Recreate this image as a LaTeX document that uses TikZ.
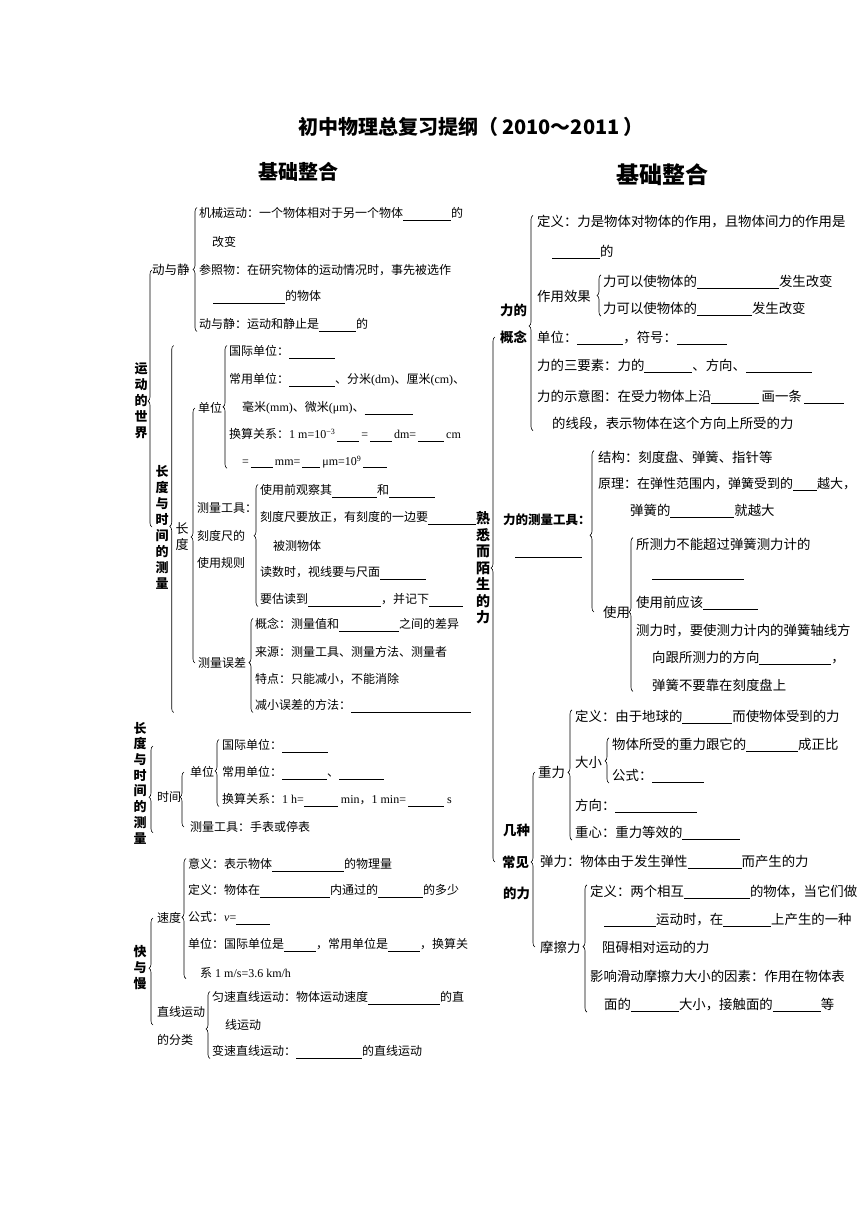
\documentclass[tikz,border=0pt]{standalone}
\usepackage{fontspec}
\setmainfont{Noto Sans CJK SC}
\newfontfamily\lat{Liberation Serif}
\usetikzlibrary{decorations.pathreplacing}
\newcommand{\blk}[1]{\rule[-2.5pt]{#1pt}{0.6pt}}

\begin{document}
\begin{tikzpicture}[x=1pt,y=-1pt,
  txt/.style={anchor=west,inner sep=0pt,font=\fontsize{12}{14}\selectfont},
  rtxt/.style={anchor=west,inner sep=0pt,font=\fontsize{13.4}{15}\selectfont},
  lab/.style={anchor=west,inner sep=0pt,font=\bfseries\fontsize{13.4}{15}\selectfont},
  vlab/.style={inner sep=0pt,align=center,font=\bfseries\fontsize{13}{16}\selectfont},
  brc/.style={decorate,decoration={brace,amplitude=4pt,aspect=#1},line width=0.6pt},
  brc/.default=0.5]
  \fill[white] (0,0) rectangle (860,1216);
  \useasboundingbox (0,0) rectangle (860,1216);

  % headings
  \node[font=\bfseries\fontsize{20}{22}\selectfont] (title) at (471,127) {初中物理总复习提纲（\,2010～2011\,）};
  \node[font=\bfseries\fontsize{20}{22}\selectfont] (hdl) at (298,172) {基础整合};
  \node[font=\bfseries\fontsize{23}{25}\selectfont] (hdr) at (662,175) {基础整合};

  % ---------- left: 运动的世界
  \node[vlab] (sj) at (141,401) {运\\动\\的\\世\\界};
  \node[txt,font=\fontsize{12.5}{14}\selectfont] (dj) at (152,270) {动与静};
  \node[txt] (dj1) at (199,214) {机械运动：一个物体相对于另一个物体\blk{48}的};
  \node[txt] (dj1b) at (212,242) {改变};
  \node[txt] (dj2) at (199,270) {参照物：在研究物体的运动情况时，事先被选作};
  \node[txt] (dj2b) at (213,297) {\blk{72}的物体};
  \node[txt] (dj3) at (199,325) {动与静：运动和静止是\blk{37}的};

  % 长度
  \node[vlab] (cd) at (162,527) {长\\度\\与\\时\\间\\的\\测\\量};
  \node[vlab,font=\fontsize{13}{16}\selectfont] (cdl) at (182,537) {长\\度};
  \node[txt] (dwl) at (198,408) {单位};
  \node[txt] (dw1) at (229,352) {国际单位：\blk{46}};
  \node[txt] (dw2) at (229,380) {常用单位：\blk{46}、分米{\lat(dm)}、厘米{\lat(cm)}、};
  \node[txt] (dw3) at (242,408) {毫米{\lat(mm)}、微米{\lat(μm)}、\blk{48}};
  \node[txt] (dw4) at (229,435) {换算关系：{\lat 1 m=10\textsuperscript{−3}\,\blk{22}\,=\,\blk{22}\,dm=\,\blk{26}\,cm}};
  \node[txt] (dw5) at (242,462) {{\lat =\,\blk{22}\,mm=\,\blk{18}\,μm=10\textsuperscript{9}\,\blk{24}}};

  \node[txt] (gj1) at (197,508) {测量工具：};
  \node[txt] (gj2) at (197,536) {刻度尺的};
  \node[txt] (gj3) at (197,563) {使用规则};
  \node[txt] (gj4) at (260,491) {使用前观察其\blk{45}和\blk{46}};
  \node[txt] (gj5) at (260,518) {刻度尺要放正，有刻度的一边要\blk{48}};
  \node[txt] (gj6) at (273,546) {被测物体};
  \node[txt] (gj7) at (260,573) {读数时，视线要与尺面\blk{46}};
  \node[txt] (gj8) at (260,600) {要估读到\blk{73}，并记下\blk{34}};

  \node[txt] (wcl) at (198,663) {测量误差};
  \node[txt] (wc1) at (255,625) {概念：测量值和\blk{60}之间的差异};
  \node[txt] (wc2) at (255,652) {来源：测量工具、测量方法、测量者};
  \node[txt] (wc3) at (255,679) {特点：只能减小，不能消除};
  \node[txt] (wc4) at (255,706) {减小误差的方法：\blk{120}};

  \draw[brc=0.5] ([xshift=-2pt]dj3.south west) -- ([xshift=-2pt]dj1.north west);
  \draw[brc=0.49] (dj.west |- cd.center) -- (dj.west);
  \draw[brc=0.507] ([xshift=5pt]cd.east |- wc4.south) -- ([xshift=5pt]cd.east |- dw1.north);
  \draw[brc=0.494] ([xshift=-3pt]wcl.west) -- ([xshift=-3pt]dwl.west);
  \draw[brc=0.5] ([xshift=-2pt]dw1.west |- dw5.south) -- ([xshift=-2pt]dw1.north west);
  \draw[brc=0.58] ([xshift=-2pt]gj4.west |- gj8.south) -- ([xshift=-2pt]gj4.north west);
  \draw[brc=0.53] ([xshift=-2pt]wc4.south west) -- ([xshift=-2pt]wc1.north west);

  % ---------- left: 时间
  \node[vlab,font=\bfseries\fontsize{13}{15.7}\selectfont] (cd2) at (140,783) {长\\度\\与\\时\\间\\的\\测\\量};
  \node[txt] (sj2) at (157,797) {时间};
  \node[txt] (dw2l) at (190,772) {单位};
  \node[txt] (tl) at (190,827) {测量工具：手表或停表};
  \node[txt] (tw1) at (222,746) {国际单位：\blk{46}};
  \node[txt] (tw2) at (222,773) {常用单位：\blk{45}、\blk{45}};
  \node[txt] (tw3) at (222,800) {换算关系：{\lat 1 h=}\blk{34}{\lat\ min}，{\lat 1 min=}\,\blk{36}{\lat\ s}};

  \draw[brc=0.41] ([xshift=-4pt]sj2.west |- tl.south) -- ([xshift=-4pt]sj2.west |- tw1.center);
  \draw[brc=0.545] ([xshift=-6pt]tl.west) -- ([xshift=-6pt]dw2l.west);
  \draw[brc=0.53] ([xshift=-3pt]tw1.west |- tw3.south) -- ([xshift=-3pt]tw1.north west);

  % ---------- left: 快与慢
  \node[vlab] (kl) at (140,968) {快\\与\\慢};
  \node[txt] (sd) at (157,918) {速度};
  \node[txt] (sd1) at (188,865) {意义：表示物体\blk{72}的物理量};
  \node[txt] (sd2) at (188,891) {定义：物体在\blk{70}内通过的\blk{45}的多少};
  \node[txt] (sd3) at (188,918) {公式：{\lat\textit{v}=}\blk{34}};
  \node[txt] (sd4) at (188,945) {单位：国际单位是\blk{32}，常用单位是\blk{32}，换算关};
  \node[txt] (sd5) at (200,973) {系{\lat\ 1 m/s=3.6 km/h}};
  \node[txt] (zx) at (157,1012) {直线运动};
  \node[txt] (zx2) at (157,1040) {的分类};
  \node[txt] (zx3) at (212,998) {匀速直线运动：物体运动速度\blk{72}的直};
  \node[txt] (zx4) at (225,1025) {线运动};
  \node[txt] (zx5) at (212,1052) {变速直线运动：\blk{66}的直线运动};

  \draw[brc=0.53] ([xshift=-4pt,yshift=-13pt]zx.west) -- ([xshift=-4pt]sd.west);
  \draw[brc=0.51] ([xshift=-2pt]sd1.west |- sd5.south) -- ([xshift=-2pt]sd1.north west);
  \draw[brc=0.44] ([xshift=-2pt]zx3.west |- zx5.south) -- ([xshift=-2pt]zx3.north west);

  % ---------- right: 熟悉而陌生的力
  \node[vlab,font=\bfseries\fontsize{14}{16.5}\selectfont] (sl) at (483,568) {熟\\悉\\而\\陌\\生\\的\\力};

  % 力的概念
  \node[lab] (lg1) at (500,310) {力的};
  \node[lab] (lg2) at (500,337) {概念};
  \node[rtxt] (lg3) at (537,222) {定义：力是物体对物体的作用，且物体间力的作用是};
  \node[rtxt] (lg4) at (552,252) {\blk{48}的};
  \node[rtxt] (lg5) at (537,296) {作用效果};
  \node[rtxt] (lg6) at (603,282) {力可以使物体的\blk{82}发生改变};
  \node[rtxt] (lg7) at (603,309) {力可以使物体的\blk{55}发生改变};
  \node[rtxt] (lg8) at (537,338) {单位：\blk{46}，符号：\blk{50}};
  \node[rtxt] (lg9) at (537,366) {力的三要素：力的\blk{48}、方向、\blk{66}};
  \node[rtxt] (lg10) at (537,397) {力的示意图：在受力物体上沿\blk{48}\,画一条\,\blk{40}};
  \node[rtxt] (lg11) at (552,424) {的线段，表示物体在这个方向上所受的力};

  % 力的测量工具
  \node[lab,font=\bfseries\fontsize{12.5}{15}\selectfont] (cl) at (503,520) {力的测量工具：};
  \node[rtxt] (cl2) at (515,556) {\blk{67}};
  \node[rtxt] (cl3) at (598,457) {结构：刻度盘、弹簧、指针等};
  \node[rtxt,font=\fontsize{13}{15}\selectfont] (cl4) at (598,484) {原理：在弹性范围内，弹簧受到的\blk{24}越大，};
  \node[rtxt] (cl5) at (630,511) {弹簧的\blk{64}就越大};
  \node[rtxt] (cl6) at (603,612) {使用};
  \node[rtxt] (cl7) at (636,544) {所测力不能超过弹簧测力计的};
  \node[rtxt] (cl8) at (652,578) {\blk{92}};
  \node[rtxt] (cl9) at (636,603) {使用前应该\blk{55}};
  \node[rtxt] (cl10) at (636,631) {测力时，要使测力计内的弹簧轴线方};
  \node[rtxt] (cl11) at (652,658) {向跟所测力的方向\blk{72}，};
  \node[rtxt] (cl12) at (652,685) {弹簧不要靠在刻度盘上};

  % 几种常见的力
  \node[lab] (jz1) at (503,830) {几种};
  \node[lab] (jz2) at (502,862) {常见};
  \node[lab] (jz3) at (503,893) {的力};
  \node[rtxt] (zl) at (538,772) {重力};
  \node[rtxt] (zl1) at (575,717) {定义：由于地球的\blk{50}而使物体受到的力};
  \node[rtxt] (zl2) at (575,762) {大小};
  \node[rtxt] (zl3) at (612,745) {物体所受的重力跟它的\blk{52}成正比};
  \node[rtxt] (zl4) at (612,776) {公式：\blk{52}};
  \node[rtxt] (zl5) at (575,806) {方向：\blk{82}};
  \node[rtxt] (zl6) at (575,833) {重心：重力等效的\blk{58}};
  \node[rtxt] (tl2) at (540,862) {弹力：物体由于发生弹性\blk{54}而产生的力};
  \node[rtxt] (mc) at (540,947) {摩擦力};
  \node[rtxt] (mc1) at (590,892) {定义：两个相互\blk{66}的物体，当它们做};
  \node[rtxt] (mc2) at (604,920) {\blk{52}运动时，在\blk{48}上产生的一种};
  \node[rtxt] (mc3) at (602,947) {阻碍相对运动的力};
  \node[rtxt] (mc4) at (590,976) {影响滑动摩擦力大小的因素：作用在物体表};
  \node[rtxt] (mc5) at (604,1005) {面的\blk{48}大小，接触面的\blk{48}等};

  \draw[brc=0.56] ([xshift=-5pt]lg2.west |- jz2.west) -- ([xshift=-5pt]lg2.west);
  \draw[brc=0.486] ([xshift=-4pt]lg3.west |- lg11.south) -- ([xshift=-4pt]lg3.north west);
  \draw[brc=0.5] ([xshift=-2pt]lg7.south west) -- ([xshift=-2pt]lg6.north west);
  \draw[brc=0.475] ([xshift=-4pt]cl3.west |- cl6.west) -- ([xshift=-4pt]cl3.north west);
  \draw[brc=0.516] ([xshift=-3pt]cl7.west |- cl12.south) -- ([xshift=-3pt]cl7.north west);
  \draw[brc=0.486] ([xshift=-5pt]mc.west) -- ([xshift=-5pt]mc.west |- zl.west);
  \draw[brc=0.52] ([xshift=-3pt]zl1.west |- zl6.south) -- ([xshift=-3pt]zl1.north west);
  \draw[brc=0.49] ([xshift=-3pt]zl3.west |- zl4.south) -- ([xshift=-3pt]zl3.north west);
  \draw[brc=0.515] ([xshift=-3pt]mc1.west |- mc5.south) -- ([xshift=-3pt]mc1.north west);
\end{tikzpicture}
\end{document}
